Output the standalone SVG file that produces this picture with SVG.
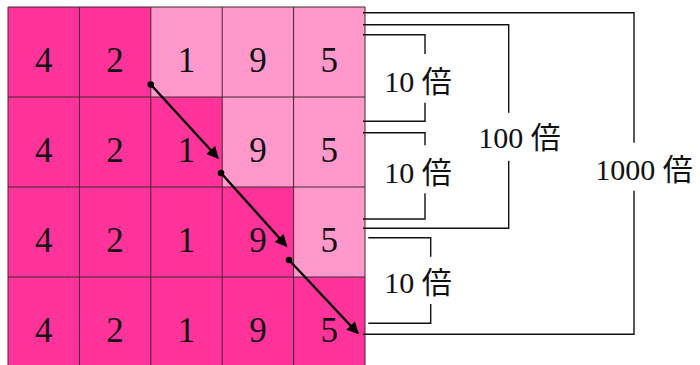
<svg xmlns="http://www.w3.org/2000/svg" width="700" height="365" viewBox="0 0 700 365">
<style>
.d{fill:#ff3399}
.l{fill:#ff99cc}
.g{fill:none;stroke:#3a2a30;stroke-width:1}
.n{font-family:"Liberation Serif","DejaVu Serif",serif;font-size:35px;fill:#111;text-anchor:middle}
.t{font-family:"Liberation Serif","Noto Sans CJK JP",serif;font-size:30px;fill:#111;text-anchor:middle}
.b{fill:none;stroke:#111;stroke-width:1.4}
.a{fill:none;stroke:#000;stroke-width:2.4}
</style>
<defs>
<marker id="ah" viewBox="0 0 10 10" refX="9" refY="5" markerWidth="6.2" markerHeight="5" orient="auto" markerUnits="strokeWidth">
<path d="M0,0 L10,5 L0,10 z" fill="#000"/>
</marker>
</defs>
<g id="grid">
<rect class="d" x="8" y="7" width="357" height="360"/>
<rect class="l" x="150.8" y="7" width="214.2" height="90"/>
<rect class="l" x="222.2" y="97" width="142.8" height="90"/>
<rect class="l" x="293.6" y="187" width="71.4" height="90"/>
<path class="g" d="M8,7H365V367H8Z M79.4,7V367 M150.8,7V367 M222.2,7V367 M293.6,7V367 M8,97H365 M8,187H365 M8,277H365"/>
</g>
<g id="numbers">
<text class="n" x="43.7" y="72">4</text><text class="n" x="115.1" y="72">2</text><text class="n" x="186.5" y="72">1</text><text class="n" x="257.9" y="72">9</text><text class="n" x="329.3" y="72">5</text>
<text class="n" x="43.7" y="162">4</text><text class="n" x="115.1" y="162">2</text><text class="n" x="186.5" y="162">1</text><text class="n" x="257.9" y="162">9</text><text class="n" x="329.3" y="162">5</text>
<text class="n" x="43.7" y="252">4</text><text class="n" x="115.1" y="252">2</text><text class="n" x="186.5" y="252">1</text><text class="n" x="257.9" y="252">9</text><text class="n" x="329.3" y="252">5</text>
<text class="n" x="43.7" y="342">4</text><text class="n" x="115.1" y="342">2</text><text class="n" x="186.5" y="342">1</text><text class="n" x="257.9" y="342">9</text><text class="n" x="329.3" y="342">5</text>
</g>
<g id="connectors">
<circle cx="150.7" cy="84.5" r="3.3"/>
<line class="a" x1="150.7" y1="84.5" x2="218" y2="158" marker-end="url(#ah)"/>
<circle cx="221" cy="173" r="3.3"/>
<line class="a" x1="221" y1="173" x2="286.5" y2="246" marker-end="url(#ah)"/>
<circle cx="289" cy="260" r="3.3"/>
<line class="a" x1="289" y1="260" x2="358" y2="333.5" marker-end="url(#ah)"/>
</g>
<g id="bracket-1000">
<path class="b" d="M363,12.7H634V142.7 M634,190.7V334.3H363"/>
<text class="t" x="644" y="180">1000 倍</text>
</g>
<g id="bracket-100">
<path class="b" d="M363,24.7H508.7V112.7 M508.7,160.7V228.3H363"/>
<text class="t" x="519.5" y="148">100 倍</text>
</g>
<g id="bracket-10a">
<path class="b" d="M363,34.7H425V54 M425,102.7V121.3H363"/>
<text class="t" x="418" y="91.7">10 倍</text>
</g>
<g id="bracket-10b">
<path class="b" d="M363,132.7H425V145.3 M425,193.3V219H363"/>
<text class="t" x="418" y="182.7">10 倍</text>
</g>
<g id="bracket-10c">
<path class="b" d="M368.3,237.7H430.7V256.7 M430.7,304V323.3H368.3"/>
<text class="t" x="418" y="293.3">10 倍</text>
</g>
</svg>
